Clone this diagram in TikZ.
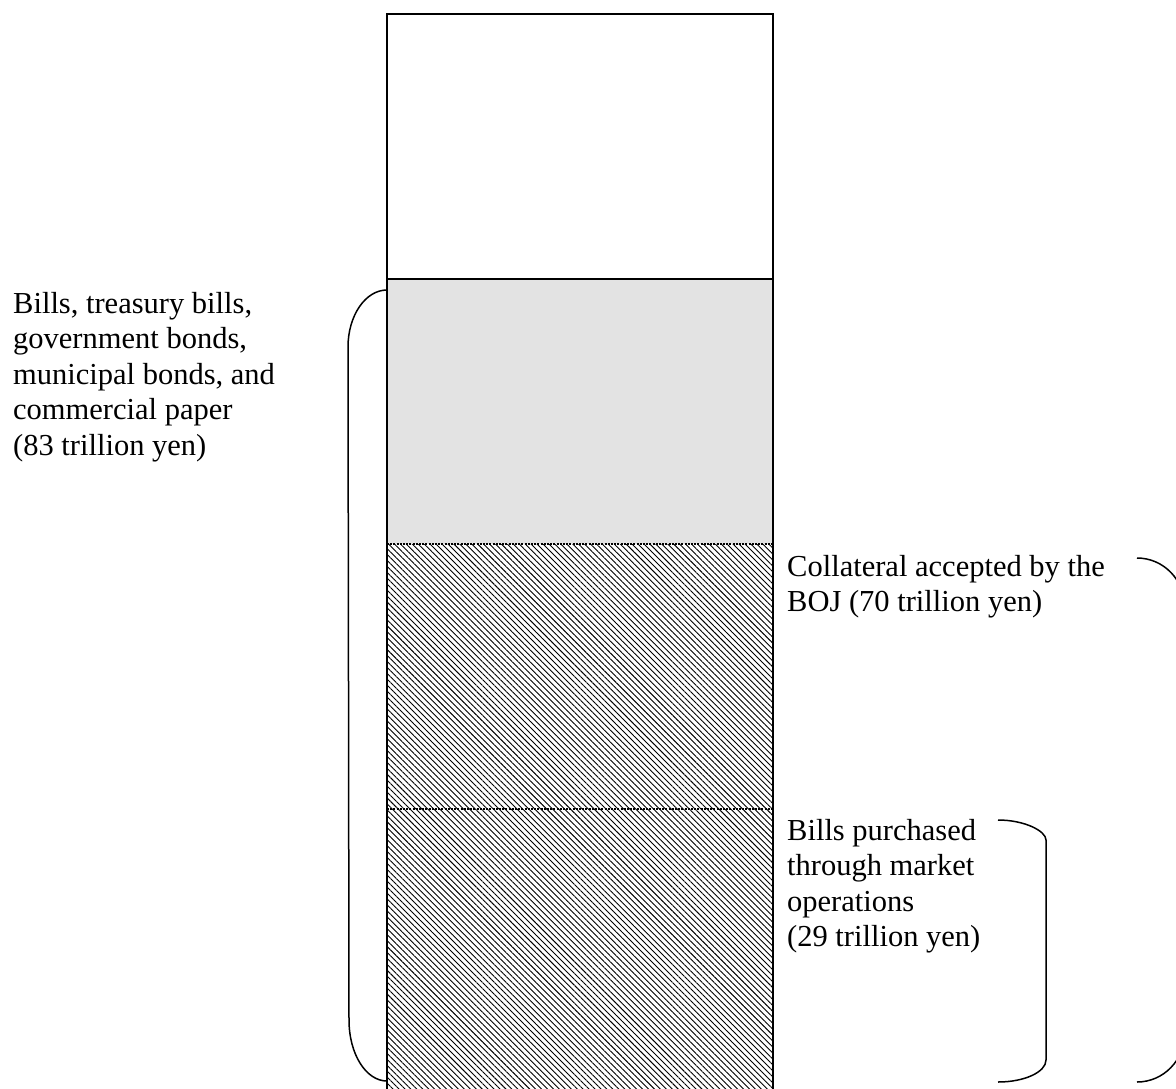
\documentclass[tikz,border=0pt]{standalone}
\usepackage{fontspec}
\setmainfont{Liberation Serif}
\usetikzlibrary{patterns.meta}
\definecolor{lightfill}{RGB}{227,227,227}
\begin{document}
\begin{tikzpicture}[x=1pt,y=-1pt,
  txt/.style={anchor=base west, inner sep=0pt, font=\fontsize{30.5}{35.6}\selectfont},
  boxline/.style={line width=2pt},
  brace/.style={line width=1.5pt},
  sepline/.style={line width=1.6pt, dash pattern=on 2pt off 1.2pt}]
\useasboundingbox (0,0) rectangle (1176,1088);
\clip (0,0) rectangle (1176,1088);
% column
\fill[lightfill] (387,279) rectangle (773,544);
\fill[pattern={Lines[angle=-45,distance=4.2pt,line width=0.9pt]}] (387,544) rectangle (773,1095);
\draw[sepline] (387,544) -- (773,544);
\draw[sepline] (387,809) -- (773,809);
\draw[boxline] (387,1095) -- (387,14) -- (773,14) -- (773,1095);
\draw[boxline] (387,279) -- (773,279);
% labels
\node[txt] (leftlabel) at (13,313) {\parbox[t]{400pt}{\raggedright Bills, treasury bills,\\ government bonds,\\ municipal bonds, and\\ commercial paper\\ (83 trillion yen)}};
\node[txt] (collateral) at (787,576) {\parbox[t]{380pt}{\raggedright Collateral accepted by the\\ BOJ (70 trillion yen)}};
\node[txt] (billsmkt) at (787,840) {\parbox[t]{300pt}{\raggedright Bills purchased\\ through market\\ operations\\ (29 trillion yen)}};
% brackets
\draw[brace] (387,290) .. controls (365.5,290) and (348,315.5) .. (348,347) -- (349,1020) .. controls (349,1054) and (366,1081) .. (387,1081);
\draw[brace] (998,820) .. controls (1024.5,820) and (1046,831) .. (1046,840) -- (1046,1060) .. controls (1046,1072) and (1024.5,1082) .. (998,1082);
\draw[brace] (1137,558) .. controls (1163.5,558) and (1185,580) .. (1185,608) -- (1185,1032) .. controls (1185,1060) and (1163.5,1082) .. (1137,1082);
\end{tikzpicture}
\end{document}
